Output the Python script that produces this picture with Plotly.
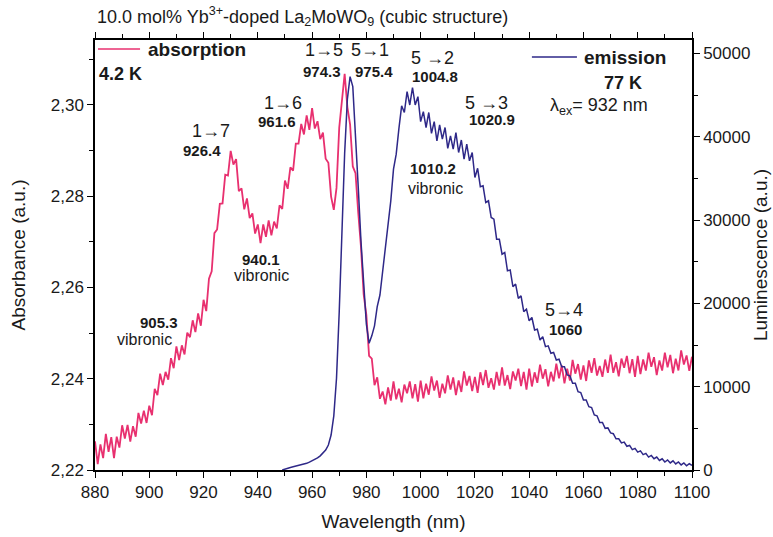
import plotly.graph_objects as go

# ---------------- data ----------------
wl_abs = list(range(880, 1101))  # nm, 1 nm steps
absorbance = [
    2.2263, 2.2213, 2.2256, 2.2226, 2.2279, 2.2240, 2.2272, 2.2226, 2.2273, 2.2249,
    2.2298, 2.2269, 2.2299, 2.2262, 2.2296, 2.2273, 2.2325, 2.2302, 2.2330, 2.2303,
    2.2341, 2.2320, 2.2378, 2.2364, 2.2411, 2.2386, 2.2415, 2.2398, 2.2445, 2.2423,
    2.2471, 2.2441, 2.2473, 2.2453, 2.2501, 2.2491, 2.2528, 2.2502, 2.2543, 2.2516,
    2.2573, 2.2548, 2.2619, 2.2635, 2.2719, 2.2727, 2.2783, 2.2784, 2.2847, 2.2845,
    2.2899, 2.2869, 2.2881, 2.2811, 2.2817, 2.2771, 2.2795, 2.2752, 2.2762, 2.2718,
    2.2738, 2.2697, 2.2738, 2.2711, 2.2747, 2.2714, 2.2744, 2.2729, 2.2780, 2.2772,
    2.2834, 2.2816, 2.2863, 2.2856, 2.2915, 2.2915, 2.2958, 2.2935, 2.2977, 2.2945,
    2.2993, 2.2948, 2.2964, 2.2925, 2.2939, 2.2882, 2.2873, 2.2799, 2.2770, 2.2818,
    2.2950, 2.3010, 2.3068, 2.2995, 2.2957, 2.2865, 2.2850, 2.2764, 2.2690, 2.2585,
    2.2540, 2.2450, 2.2444, 2.2386, 2.2403, 2.2356, 2.2372, 2.2344, 2.2381, 2.2352,
    2.2394, 2.2355, 2.2378, 2.2348, 2.2387, 2.2368, 2.2394, 2.2357, 2.2388, 2.2350,
    2.2396, 2.2357, 2.2389, 2.2365, 2.2405, 2.2374, 2.2396, 2.2358, 2.2389, 2.2368,
    2.2407, 2.2376, 2.2403, 2.2364, 2.2396, 2.2371, 2.2416, 2.2385, 2.2406, 2.2373,
    2.2404, 2.2369, 2.2414, 2.2386, 2.2419, 2.2380, 2.2401, 2.2376, 2.2415, 2.2385,
    2.2425, 2.2385, 2.2408, 2.2377, 2.2416, 2.2396, 2.2422, 2.2384, 2.2415, 2.2376,
    2.2422, 2.2383, 2.2414, 2.2391, 2.2431, 2.2400, 2.2421, 2.2383, 2.2415, 2.2394,
    2.2433, 2.2401, 2.2429, 2.2390, 2.2422, 2.2396, 2.2441, 2.2411, 2.2432, 2.2398,
    2.2429, 2.2395, 2.2440, 2.2413, 2.2445, 2.2407, 2.2428, 2.2404, 2.2442, 2.2413,
    2.2453, 2.2413, 2.2436, 2.2405, 2.2444, 2.2424, 2.2450, 2.2412, 2.2443, 2.2404,
    2.2450, 2.2410, 2.2442, 2.2418, 2.2457, 2.2426, 2.2447, 2.2408, 2.2440, 2.2418,
    2.2457, 2.2425, 2.2452, 2.2412, 2.2444, 2.2418, 2.2462, 2.2431, 2.2451, 2.2417,
    2.2448,
]

wl_em = list(range(949, 1101))  # nm, 1 nm steps
luminescence = [
    0, 120, 220, 300, 380, 450, 520, 600, 700, 800, 950,
    1100, 1250, 1450, 1700, 2000, 2400, 3000, 4200, 6500, 11000,
    19000, 29000, 38000, 44500, 47200, 46000, 40500, 34000, 27500, 22000,
    17500, 15200, 16100, 17300, 19600, 21000, 23900, 26000, 29500, 32300,
    36100, 37900, 41000, 43700, 42900, 45400, 43800, 45900, 43800, 44800,
    41800, 43000, 41100, 42900, 40400, 41800, 39500, 41400, 39700, 41100,
    38600, 40100, 38500, 40500, 38100, 39600, 37300, 39100, 37100, 38100,
    35100, 36200, 34000, 34100, 32100, 32300, 30300, 30100, 27700, 27700,
    25900, 26100, 23900, 24000, 22000, 22300, 20600, 20900, 19000, 19300,
    17900, 18300, 16800, 16900, 15600, 16000, 14800, 14900, 14000, 14100,
    13200, 13300, 12400, 12400, 11400, 11300, 10400, 10400, 9400, 9300,
    8400, 8400, 7600, 7500, 6600, 6500, 5700, 5700, 5000, 5050,
    4450, 4350, 3750, 3750, 3250, 3350, 2850, 2950, 2450, 2600,
    2150, 2300, 1850, 2000, 1550, 1750, 1350, 1550, 1150, 1350,
    950, 1200, 850, 1100, 730, 970, 610, 850, 500, 750,
    550,
]

x_ticks = [880, 900, 920, 940, 960, 980, 1000, 1020, 1040, 1060, 1080, 1100]
y_ticks = [2.22, 2.24, 2.26, 2.28, 2.30]
y_tick_text = ["2,22", "2,24", "2,26", "2,28", "2,30"]
y2_ticks = [0, 10000, 20000, 30000, 40000, 50000]
y2_tick_text = ["0", "10000", "20000", "30000", "40000", "50000"]

PINK = "#E8306F"
BLUE = "#2E2888"
TXT = "#1a1a1a"
FONT = "Liberation Sans, Arial, sans-serif"

fig = go.Figure()
fig.add_trace(go.Scatter(x=wl_abs, y=absorbance, mode="lines", name="absorption",
                         line=dict(color=PINK, width=1.8), yaxis="y"))
fig.add_trace(go.Scatter(x=wl_em, y=luminescence, mode="lines", name="emission",
                         line=dict(color=BLUE, width=1.5), yaxis="y2"))

axis_common = dict(showline=True, linecolor="black", linewidth=1.5, ticks="outside",
                   tickwidth=1.3, ticklen=6, tickcolor="black", showgrid=False,
                   zeroline=False, automargin=False,
                   tickfont=dict(family=FONT, size=17, color=TXT))
TITLE_FONT = dict(family=FONT, size=19, color=TXT)

fig.update_layout(
    width=773, height=537,
    margin=dict(l=95, r=81, t=40, b=67),
    paper_bgcolor="white", plot_bgcolor="white",
    showlegend=False,
    font=dict(family=FONT, color=TXT),
    xaxis=dict(range=[880, 1100], tickvals=x_ticks, mirror="ticks",
               minor=dict(dtick=10, tick0=880, ticks="outside", ticklen=4, tickcolor="black", tickwidth=1.2),
               title=dict(text="Wavelength (nm)", font=TITLE_FONT, standoff=14),
               **axis_common),
    yaxis=dict(range=[2.22, 2.3142], tickvals=y_ticks, ticktext=y_tick_text,
               minor=dict(dtick=0.01, tick0=2.22, ticks="outside", ticklen=4, tickcolor="black", tickwidth=1.2),
               title=dict(text="Absorbance (a.u.)", font=TITLE_FONT, standoff=20),
               **axis_common),
    yaxis2=dict(range=[0, 51600], overlaying="y", side="right", tickvals=y2_ticks, ticktext=y2_tick_text,
                minor=dict(dtick=5000, tick0=0, ticks="outside", ticklen=4, tickcolor="black", tickwidth=1.2),
                title=dict(text="Luminescence (a.u.)", font=TITLE_FONT, standoff=3),
                **axis_common),
)

# legend swatches (layout decorations)
fig.add_shape(type="line", xref="x", yref="paper", x0=881.1, x1=896.6, y0=0.979, y1=0.979,
              line=dict(color=PINK, width=1.5))
fig.add_shape(type="line", xref="x", yref="paper", x0=1041.0, x1=1057.6, y0=0.9605, y1=0.9605,
              line=dict(color=BLUE, width=1.5))

def ann(text, x, y, size=13, bold=False, xanchor="center"):
    t = f"<b>{text}</b>" if bold else text
    fig.add_annotation(x=x, y=y, xref="x", yref="y", text=t, showarrow=False,
                       xanchor=xanchor, yanchor="middle",
                       font=dict(family=FONT, size=size, color=TXT))

ann("absorption", 898.8, 2.3121, size=19, bold=True, xanchor="left")
ann("4.2 K", 880.8, 2.3068, size=18, bold=True, xanchor="left")
ann("emission", 1059.3, 2.3103, size=19, bold=True, xanchor="left")
ann("77 K", 1074.6, 2.3048, size=18, bold=True)
ann("λ<sub>ex</sub>= 932 nm", 1065.7, 2.2996, size=18)

ann("1→5", 964.4, 2.3121, size=18)
ann("974.3", 963.7, 2.3074, size=15, bold=True)
ann("5→1", 981.3, 2.3121, size=18)
ann("975.4", 982.8, 2.3074, size=15, bold=True)
ann("5 →2", 1004.2, 2.3102, size=18)
ann("1004.8", 1005.3, 2.3061, size=15, bold=True)
ann("5 →3", 1024.1, 2.3004, size=18)
ann("1020.9", 1026.3, 2.2967, size=15, bold=True)
ann("1→7", 922.7, 2.2943, size=18)
ann("926.4", 919.4, 2.2899, size=15, bold=True)
ann("1→6", 949.3, 2.3004, size=18)
ann("961.6", 947.1, 2.2963, size=15, bold=True)
ann("940.1", 941.2, 2.2662, size=15, bold=True)
ann("vibronic", 941.2, 2.2626, size=16)
ann("905.3", 903.6, 2.2524, size=15, bold=True)
ann("vibronic", 898.4, 2.2486, size=16)
ann("1010.2", 1004.6, 2.2860, size=15, bold=True)
ann("vibronic", 1005.3, 2.2817, size=16)
ann("5→4", 1052.8, 2.2550, size=18)
ann("1060", 1053.2, 2.2507, size=15, bold=True)

fig.add_annotation(x=0.0, y=1.0535, xref="paper", yref="paper", xanchor="left", yanchor="middle",
                   text="10.0 mol% Yb<sup>3+</sup>-doped La<sub>2</sub>MoWO<sub>9</sub> (cubic structure)",
                   showarrow=False, font=dict(family=FONT, size=18, color=TXT))

fig.write_html("out.html")
